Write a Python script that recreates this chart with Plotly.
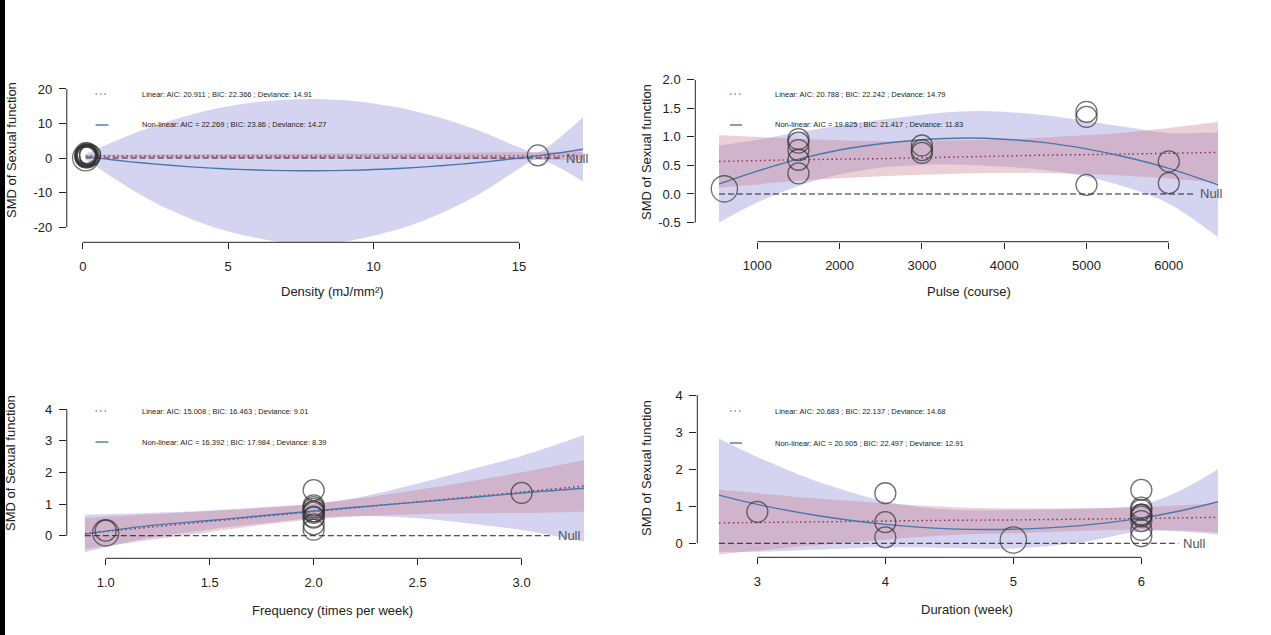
import plotly.graph_objects as go

# ---- study level data (SMD of sexual function) ----
study_smd = [0.09, 0.96, 0.90, 0.77, 0.60, 0.36, 0.85, 0.77, 0.72, 1.44, 1.35, 0.16, 0.57, 0.19]
study_weight = [1.25, 1, 1, 1, 1, 1, 1, 1, 1, 1, 1, 1, 1, 1]
study_density = [0.10, 0.12, 0.12, 0.12, 0.12, 0.12, 0.25, 15.65, 0.25, 0.10, 0.16, 0.16, 0.08, 0.10]
study_pulse = [600, 1500, 1500, 1500, 1500, 1500, 3000, 3000, 3000, 5000, 5000, 5000, 6000, 6000]
study_freq = [1, 2, 2, 2, 2, 2, 2, 2, 2, 2, 3, 1, 2, 2]
study_duration = [5, 6, 6, 6, 6, 6, 3, 6, 6, 6, 4, 4, 4, 6]

# ---- Density panel ----
dens_nl_x = [0.1, 1, 2, 3, 4, 5, 6, 7, 8, 9, 10, 11, 12, 13, 14, 15, 15.6, 16.2, 17.2]
dens_nl_y = [0.39, -0.51, -1.39, -2.12, -2.72, -3.17, -3.49, -3.66, -3.70, -3.59, -3.35, -2.96, -2.44, -1.77, -0.97, -0.03, 0.61, 1.29, 2.55]
dens_nl_hi = [1.2, 4.5, 7.9, 10.8, 13.2, 15.0, 16.2, 16.9, 17.1, 16.7, 15.8, 14.4, 12.3, 9.8, 6.7, 3.1, 1.6, 4.6, 11.8]
dens_nl_lo = [-0.4, -5.5, -10.7, -15.1, -18.6, -21.3, -23.2, -24.6, -25.0, -24.2, -22.5, -20.3, -17.2, -13.3, -8.6, -3.1, -0.4, -2.0, -6.8]
dens_lin_x = [0.1, 4, 8, 12, 17.2]
dens_lin_y = [0.57, 0.59, 0.60, 0.61, 0.63]
dens_lin_hi = [0.95, 1.10, 1.30, 1.50, 1.80]
dens_lin_lo = [0.20, 0.10, -0.10, -0.30, -0.55]
dens_null = [0.1, 16.45]
dens_xticks = [0, 5, 10, 15]
dens_yticks = [-20, -10, 0, 10, 20]
dens_yticklabels = ['-20', '-10', '0', '10', '20']

# ---- Pulse panel ----
pulse_nl_x = [535, 1000, 1500, 2000, 2500, 3000, 3550, 4000, 4500, 5000, 5500, 6000, 6600]
pulse_nl_y = [0.175, 0.40, 0.61, 0.77, 0.88, 0.95, 0.98, 0.96, 0.90, 0.79, 0.64, 0.45, 0.16]
pulse_nl_hi = [0.85, 0.95, 1.08, 1.20, 1.30, 1.39, 1.45, 1.44, 1.38, 1.28, 1.17, 1.07, 1.08]
pulse_nl_lo = [-0.50, -0.15, 0.14, 0.34, 0.46, 0.51, 0.51, 0.48, 0.42, 0.30, 0.11, -0.17, -0.76]
pulse_lin_x = [535, 1500, 2500, 3500, 4500, 5500, 6600]
pulse_lin_y = [0.57, 0.60, 0.62, 0.65, 0.68, 0.70, 0.73]
pulse_lin_hi = [1.03, 0.97, 0.93, 0.94, 0.99, 1.08, 1.26]
pulse_lin_lo = [0.11, 0.23, 0.31, 0.36, 0.37, 0.32, 0.20]
pulse_null = [535, 6318]
pulse_xticks = [1000, 2000, 3000, 4000, 5000, 6000]
pulse_yticks = [-0.5, 0, 0.5, 1.0, 1.5, 2.0]
pulse_yticklabels = ['-0.5', '0.0', '0.5', '1.0', '1.5', '2.0']

# ---- Frequency panel ----
freq_nl_x = [0.9, 1.2, 1.5, 1.8, 2.0, 2.2, 2.5, 2.8, 3.0, 3.3]
freq_nl_y = [0.05, 0.31, 0.48, 0.66, 0.78, 0.90, 1.06, 1.23, 1.35, 1.50]
freq_nl_hi = [0.66, 0.72, 0.80, 0.92, 1.02, 1.19, 1.65, 2.17, 2.52, 3.18]
freq_nl_lo = [-0.52, -0.08, 0.20, 0.42, 0.55, 0.62, 0.55, 0.35, 0.18, -0.19]
freq_lin_x = [0.9, 1.5, 2.0, 2.5, 3.0, 3.3]
freq_lin_y = [0.07, 0.45, 0.76, 1.07, 1.38, 1.57]
freq_lin_hi = [0.56, 0.78, 1.00, 1.45, 2.00, 2.39]
freq_lin_lo = [-0.42, 0.12, 0.52, 0.68, 0.72, 0.76]
freq_null = [0.9, 3.15]
freq_xticks = [1.0, 1.5, 2.0, 2.5, 3.0]
freq_xticklabels = ['1.0', '1.5', '2.0', '2.5', '3.0']
freq_yticks = [0, 1, 2, 3, 4]

# ---- Duration panel ----
dur_nl_x = [2.7, 3.0, 3.5, 4.0, 4.5, 5.0, 5.5, 6.0, 6.3, 6.6]
dur_nl_y = [1.30, 1.05, 0.73, 0.51, 0.39, 0.38, 0.47, 0.68, 0.87, 1.12]
dur_nl_hi = [2.83, 2.33, 1.63, 1.13, 0.91, 0.90, 0.93, 1.04, 1.42, 2.00]
dur_nl_lo = [-0.23, -0.23, -0.17, -0.11, -0.13, -0.14, 0.01, 0.32, 0.32, 0.24]
dur_lin_x = [2.7, 3.5, 4.5, 5.0, 5.5, 6.0, 6.6]
dur_lin_y = [0.55, 0.58, 0.62, 0.63, 0.65, 0.67, 0.70]
dur_lin_hi = [1.45, 1.20, 0.98, 0.94, 0.94, 0.97, 1.08]
dur_lin_lo = [-0.30, -0.04, 0.22, 0.27, 0.33, 0.37, 0.30]
dur_null = [2.7, 6.29]
dur_xticks = [3, 4, 5, 6]
dur_yticks = [0, 1, 2, 3, 4]

W, H = 1271, 635
FONT = 'Liberation Sans, Arial, sans-serif'
BLUE_BAND = 'rgba(100,100,200,0.28)'
PINK_BAND = 'rgba(200,125,140,0.36)'
BLUE_LINE = '#4A76AE'
RED_LINE = '#8E3050'


def px(p):
    return p / W


def py(p):
    return 1 - p / H


panels = [
    dict(xs=study_density, nl=(dens_nl_x, dens_nl_y, dens_nl_lo, dens_nl_hi),
         lin=(dens_lin_x, dens_lin_y, dens_lin_lo, dens_lin_hi), null=dens_null,
         box=(66.8, 584, 73.7, 242.3), xr=[-0.55, 17.235], yr=[-24.43, 24.43],
         xt=dens_xticks, xl=[str(v) for v in dens_xticks], yt=dens_yticks, yl=dens_yticklabels,
         xtitle='Density (mJ/mm²)', xtpos=(332, 292), ytpos=(11, 150),
         leg=(95.5, 108.5, 140, 94, 125),
         txt=('Linear: AIC: 20.911 ; BIC: 22.366 ; Deviance: 14.91',
              'Non-linear: AIC = 22.269 ; BIC: 23.86 ; Deviance: 14.27')),
    dict(xs=study_pulse, nl=(pulse_nl_x, pulse_nl_y, pulse_nl_lo, pulse_nl_hi),
         lin=(pulse_lin_x, pulse_lin_y, pulse_lin_lo, pulse_lin_hi), null=pulse_null,
         box=(695.3, 1218, 73.7, 241.7), xr=[246.7, 6598], yr=[-0.836, 2.108],
         xt=pulse_xticks, xl=[str(v) for v in pulse_xticks], yt=pulse_yticks, yl=pulse_yticklabels,
         xtitle='Pulse (course)', xtpos=(968.8, 291.7), ytpos=(646, 152),
         leg=(730, 742, 773, 94, 125),
         txt=('Linear: AIC: 20.788 ; BIC: 22.242 ; Deviance: 14.79',
              'Non-linear: AIC = 19.825 ; BIC: 21.417 ; Deviance: 11.83')),
    dict(xs=study_freq, nl=(freq_nl_x, freq_nl_y, freq_nl_lo, freq_nl_hi),
         lin=(freq_lin_x, freq_lin_y, freq_lin_lo, freq_lin_hi), null=freq_null,
         box=(66.8, 584, 403, 558.3), xr=[0.813, 3.30], yr=[-0.713, 4.19],
         xt=freq_xticks, xl=freq_xticklabels, yt=freq_yticks, yl=[str(v) for v in freq_yticks],
         xtitle='Frequency (times per week)', xtpos=(332, 610), ytpos=(11, 463),
         leg=(95.5, 108.5, 140, 411, 442),
         txt=('Linear: AIC: 15.008 ; BIC: 16.463 ; Deviance: 9.01',
              'Non-linear: AIC = 16.392 ; BIC: 17.984 ; Deviance: 8.39')),
    dict(xs=study_duration, nl=(dur_nl_x, dur_nl_y, dur_nl_lo, dur_nl_hi),
         lin=(dur_lin_x, dur_lin_y, dur_lin_lo, dur_lin_hi), null=dur_null,
         box=(697.3, 1218, 388.7, 557.3), xr=[2.531, 6.599], yr=[-0.378, 4.17],
         xt=dur_xticks, xl=[str(v) for v in dur_xticks], yt=dur_yticks, yl=[str(v) for v in dur_yticks],
         xtitle='Duration (week)', xtpos=(966.7, 609), ytpos=(646, 468),
         leg=(730, 742, 773, 411, 443),
         txt=('Linear: AIC: 20.683 ; BIC: 22.137 ; Deviance: 14.68',
              'Non-linear: AIC = 20.905 ; BIC: 22.497 ; Deviance: 12.91')),
]

fig = go.Figure()
shapes = [dict(type='rect', xref='paper', yref='paper', x0=0, x1=px(5), y0=0, y1=1,
               fillcolor='black', line_width=0)]
annotations = []

for i, p in enumerate(panels, start=1):
    xa = 'x' if i == 1 else f'x{i}'
    ya = 'y' if i == 1 else f'y{i}'
    nx, ny, nlo, nhi = p['nl']
    lx, ly, llo, lhi = p['lin']

    # confidence bands: non-linear (blue) then linear (pink)
    for bx, blo, bhi, col in [(nx, nlo, nhi, BLUE_BAND), (lx, llo, lhi, PINK_BAND)]:
        fig.add_trace(go.Scatter(x=bx, y=blo, mode='lines', line=dict(width=0, shape='spline'),
                                 hoverinfo='skip', showlegend=False, xaxis=xa, yaxis=ya))
        fig.add_trace(go.Scatter(x=bx, y=bhi, mode='lines', line=dict(width=0, shape='spline'),
                                 fill='tonexty', fillcolor=col, hoverinfo='skip',
                                 showlegend=False, xaxis=xa, yaxis=ya))

    # null line
    fig.add_trace(go.Scatter(x=p['null'], y=[0, 0], mode='lines',
                             line=dict(color='#222', width=1, dash='6px,3px'),
                             showlegend=False, xaxis=xa, yaxis=ya))
    # fits
    fig.add_trace(go.Scatter(x=lx, y=ly, mode='lines',
                             line=dict(color=RED_LINE, width=1.4, dash='1.5px,3px', shape='spline'),
                             showlegend=False, xaxis=xa, yaxis=ya))
    fig.add_trace(go.Scatter(x=nx, y=ny, mode='lines',
                             line=dict(color=BLUE_LINE, width=1.4, shape='spline'),
                             showlegend=False, xaxis=xa, yaxis=ya))
    # studies
    fig.add_trace(go.Scatter(x=p['xs'], y=study_smd, mode='markers', cliponaxis=False,
                             marker=dict(symbol='circle-open', size=[21 * w for w in study_weight],
                                         color='#333', line=dict(width=1.3, color='#333')),
                             showlegend=False, xaxis=xa, yaxis=ya))

    x0, x1, y0, y1 = p['box']
    tickfont = dict(family=FONT, size=13, color='#222')
    fig.layout[('xaxis' if i == 1 else f'xaxis{i}')] = dict(
        domain=[px(x0), px(x1)], range=p['xr'], anchor=ya, showgrid=False, zeroline=False,
        showline=False, ticks='outside', ticklen=6, tickcolor='#222', tickwidth=1,
        tickvals=p['xt'], ticktext=p['xl'], tickfont=tickfont, ticklabelstandoff=6)
    fig.layout[('yaxis' if i == 1 else f'yaxis{i}')] = dict(
        domain=[py(y1), py(y0)], range=p['yr'], anchor=xa, showgrid=False, zeroline=False,
        showline=False, ticks='outside', ticklen=7, tickcolor='#222', tickwidth=1,
        tickvals=p['yt'], ticktext=p['yl'], tickfont=tickfont, ticklabelstandoff=4)

    # R-style axis lines spanning first to last tick
    shapes.append(dict(type='line', xref=xa, yref=f'{ya} domain', x0=p['xt'][0], x1=p['xt'][-1],
                       y0=0, y1=0, line=dict(color='#222', width=1)))
    shapes.append(dict(type='line', xref=f'{xa} domain', yref=ya, x0=0, x1=0,
                       y0=p['yt'][0], y1=p['yt'][-1], line=dict(color='#222', width=1)))

    # legend keys
    lx0, lx1, tx, ty1, ty2 = p['leg']
    shapes.append(dict(type='line', xref='paper', yref='paper', x0=px(lx0), x1=px(lx1),
                       y0=py(ty1), y1=py(ty1), line=dict(color=RED_LINE, width=1.2, dash='1.5px,3px')))
    shapes.append(dict(type='line', xref='paper', yref='paper', x0=px(lx0), x1=px(lx1),
                       y0=py(ty2), y1=py(ty2), line=dict(color=BLUE_LINE, width=1.4)))
    for t, ty in zip(p['txt'], [ty1, ty2]):
        annotations.append(dict(text=t, xref='paper', yref='paper', x=px(tx), y=py(ty),
                                xanchor='left', yanchor='middle', showarrow=False,
                                font=dict(family=FONT, size=7.5, color='#222')))

    # Null label
    annotations.append(dict(text='Null', xref=xa, yref=ya, x=p['null'][1], y=0, xshift=3,
                            xanchor='left', yanchor='middle', showarrow=False,
                            font=dict(family=FONT, size=13, color='#555')))
    # axis titles
    annotations.append(dict(text=p['xtitle'], xref='paper', yref='paper',
                            x=px(p['xtpos'][0]), y=py(p['xtpos'][1]), xanchor='center',
                            yanchor='middle', showarrow=False,
                            font=dict(family=FONT, size=13, color='#222')))
    annotations.append(dict(text='SMD of Sexual function', xref='paper', yref='paper',
                            x=px(p['ytpos'][0]), y=py(p['ytpos'][1]), xanchor='center',
                            yanchor='middle', textangle=-90, showarrow=False,
                            font=dict(family=FONT, size=13, color='#222')))

fig.update_layout(width=W, height=H, margin=dict(l=0, r=0, t=0, b=0),
                  plot_bgcolor='white', paper_bgcolor='white', showlegend=False,
                  shapes=shapes, annotations=annotations, font=dict(family=FONT))

# drop the default page margin so the figure sits at the window origin
fig.write_html('out.html', config={'displayModeBar': False},
               post_script="document.body.style.margin='0px';")
